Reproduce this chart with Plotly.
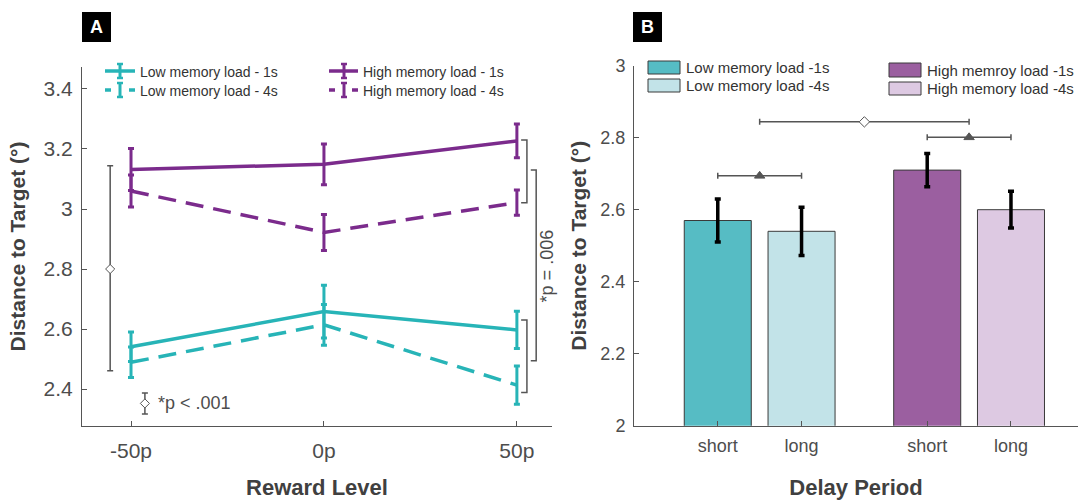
import plotly.graph_objects as go

W, H = 1078, 502

# ---------------- Panel A data ----------------
reward_levels = [-50, 0, 50]
reward_ticks = ["-50p", "0p", "50p"]
low_1s = [2.541, 2.658, 2.597]
low_1s_err = [0.049, 0.088, 0.062]
low_4s = [2.489, 2.614, 2.413]
low_4s_err = [0.051, 0.068, 0.064]
high_1s = [3.132, 3.149, 3.227]
high_1s_err = [0.070, 0.068, 0.056]
high_4s = [3.060, 2.922, 3.021]
high_4s_err = [0.053, 0.060, 0.042]
yticks_a = [2.4, 2.6, 2.8, 3.0, 3.2, 3.4]
yticklabels_a = ["2.4", "2.6", "2.8", "3", "3.2", "3.4"]

# significance annotations (panel A)
load_diff_center = 2.8
load_diff_up = 0.344
load_diff_down = 0.339
key_center = 2.352
key_half = 0.035
bracket_high = [3.230, 3.021]
bracket_low = [2.630, 2.388]
bracket_join = [3.130, 2.494]

# ---------------- Panel B data ----------------
delay_labels = ["short", "long", "short", "long"]
bar_pos = [1, 2, 3.5, 4.5]
bar_vals = [2.57, 2.54, 2.71, 2.60]
bar_err = [0.060, 0.067, 0.046, 0.051]
yticks_b = [2.0, 2.2, 2.4, 2.6, 2.8, 3.0]
yticklabels_b = ["2", "2.2", "2.4", "2.6", "2.8", "3"]
sig_b_x = [1.5, 2.75, 4.0]
sig_b_y = [2.694, 2.844, 2.801]
sig_b_half = [0.5, 1.25, 0.5]
sig_b_symbol = ["triangle-up", "diamond", "triangle-up"]

TEAL = "#27B4B7"
PURPLE = "#7B2B8C"
BAR_COLORS = ["#56BCC4", "#C2E3E8", "#9B5FA0", "#DDC9E2"]
GRAY = "#555555"
TXT = "#4D4D4D"
FONT = "Liberation Sans"

fig = go.Figure()


def line_series(y, e, color, dash):
    fig.add_trace(go.Scatter(
        x=reward_levels, y=y, mode="lines",
        line=dict(color=color, width=3.5, dash=dash),
        error_y=dict(type="data", array=e, color=color, thickness=3, width=3),
        showlegend=False, xaxis="x", yaxis="y", hoverinfo="skip"))


line_series(low_1s, low_1s_err, TEAL, "solid")
line_series(low_4s, low_4s_err, TEAL, "18px,10px")
line_series(high_1s, high_1s_err, PURPLE, "solid")
line_series(high_4s, high_4s_err, PURPLE, "18px,10px")

# left significance bar
fig.add_trace(go.Scatter(
    x=[-55.4], y=[load_diff_center], mode="markers",
    marker=dict(symbol="diamond", size=7, color="white", line=dict(color=GRAY, width=1)),
    error_y=dict(type="data", symmetric=False, array=[load_diff_up], arrayminus=[load_diff_down],
                 color=GRAY, thickness=1.5, width=3),
    showlegend=False, xaxis="x", yaxis="y", hoverinfo="skip"))
# key glyph
fig.add_trace(go.Scatter(
    x=[-46.4], y=[key_center], mode="markers",
    marker=dict(symbol="diamond", size=7, color="white", line=dict(color=GRAY, width=1)),
    error_y=dict(type="data", array=[key_half], color=GRAY, thickness=1.5, width=3),
    showlegend=False, xaxis="x", yaxis="y", hoverinfo="skip"))

# ---------------- Panel B ----------------
fig.add_trace(go.Bar(
    x=bar_pos, y=bar_vals, width=0.8,
    marker=dict(color=BAR_COLORS, line=dict(color="#3a3a3a", width=1)),
    error_y=dict(type="data", array=bar_err, color="black", thickness=3.5, width=3),
    showlegend=False, xaxis="x2", yaxis="y2", hoverinfo="skip"))

for xs, ys, hs, sym in zip(sig_b_x, sig_b_y, sig_b_half, sig_b_symbol):
    fig.add_trace(go.Scatter(
        x=[xs], y=[ys], mode="markers",
        marker=dict(symbol=sym, size=8 if sym == "diamond" else 9,
                    color="white" if sym == "diamond" else GRAY,
                    line=dict(color=GRAY, width=1)),
        error_x=dict(type="data", array=[hs], color=GRAY, thickness=1.5, width=3),
        showlegend=False, xaxis="x2", yaxis="y2", hoverinfo="skip"))

shapes = []
annotations = []


def px(x):
    return x / W


def py(y):
    return 1 - y / H


# panel A right brackets
def bracket(x0, x1, ya, yb):
    shapes.append(dict(type="path", xref="x", yref="y",
                       path=f"M {x0},{ya} L {x1},{ya} L {x1},{yb} L {x0},{yb}",
                       line=dict(color=GRAY, width=1.5)))


bracket(51.1, 52.6, bracket_high[0], bracket_high[1])
bracket(51.1, 52.6, bracket_low[0], bracket_low[1])
bracket(53.6, 55.0, bracket_join[0], bracket_join[1])
annotations.append(dict(x=57.8, y=(bracket_join[0] + bracket_join[1]) / 2, xref="x", yref="y",
                        text="*p = .006", textangle=-90, showarrow=False,
                        font=dict(size=18, color=TXT, family=FONT)))
annotations.append(dict(x=-43.5, y=key_center, xref="x", yref="y", xanchor="left",
                        text="*p < .001", showarrow=False,
                        font=dict(size=18, color=TXT, family=FONT)))

# panel A legend (drawn)
legA = [
    (105, 135, 120, 71, TEAL, "solid", "Low memory load - 1s"),
    (105, 135, 120, 90, TEAL, "dash", "Low memory load - 4s"),
    (329, 358, 344, 71, PURPLE, "solid", "High memory load - 1s"),
    (329, 358, 344, 90, PURPLE, "dash", "High memory load - 4s"),
]
for x0, x1, xc, yc, col, dsh, label in legA:
    if dsh == "solid":
        shapes.append(dict(type="line", xref="paper", yref="paper", x0=px(x0), x1=px(x1),
                           y0=py(yc), y1=py(yc), line=dict(color=col, width=3.5)))
    else:
        for a, b in [(x0, x0 + 6), (x1 - 6, x1)]:
            shapes.append(dict(type="line", xref="paper", yref="paper", x0=px(a), x1=px(b),
                               y0=py(yc), y1=py(yc), line=dict(color=col, width=3.5)))
    shapes.append(dict(type="line", xref="paper", yref="paper", x0=px(xc), x1=px(xc),
                       y0=py(yc - 7), y1=py(yc + 7), line=dict(color=col, width=3)))
    for yy in (yc - 7, yc + 7):
        shapes.append(dict(type="line", xref="paper", yref="paper", x0=px(xc - 3), x1=px(xc + 3),
                           y0=py(yy), y1=py(yy), line=dict(color=col, width=2.5)))
    annotations.append(dict(x=px(x1 + 3), y=py(yc + 1), xref="paper", yref="paper",
                            xanchor="left", yanchor="middle", text=label, showarrow=False,
                            font=dict(size=14, color="#333333", family=FONT)))

# panel B legend
legB = [
    (648, 680, 61, 74, BAR_COLORS[0], "Low memory load -1s"),
    (648, 680, 79, 92, BAR_COLORS[1], "Low memory load -4s"),
    (889, 921, 63, 77, BAR_COLORS[2], "High memroy load -1s"),
    (889, 921, 82, 95, BAR_COLORS[3], "High memory load -4s"),
]
for x0, x1, y0, y1, col, label in legB:
    shapes.append(dict(type="rect", xref="paper", yref="paper", x0=px(x0), x1=px(x1),
                       y0=py(y1), y1=py(y0), fillcolor=col, line=dict(color="#3a3a3a", width=1)))
    annotations.append(dict(x=px(x1 + 4), y=py((y0 + y1) / 2), xref="paper", yref="paper",
                            xanchor="left", yanchor="middle", text=label, showarrow=False,
                            font=dict(size=15, color="#333333", family=FONT)))

# panel labels
for x0, lab in [(82, "A"), (633, "B")]:
    shapes.append(dict(type="rect", xref="paper", yref="paper", x0=px(x0), x1=px(x0 + 29),
                       y0=py(42), y1=py(12), fillcolor="black", line=dict(width=0)))
    annotations.append(dict(x=px(x0 + 14.5), y=py(27), xref="paper", yref="paper",
                            xanchor="center", yanchor="middle",
                            text=f"<b>{lab}</b>", showarrow=False,
                            font=dict(size=18, color="white", family=FONT)))

axis_common = dict(showgrid=False, zeroline=False, showline=True, linecolor=GRAY, linewidth=1,
                   ticks="inside", ticklen=5, tickcolor=GRAY, mirror=False, automargin=False)

fig.update_layout(
    width=W, height=H, margin=dict(l=0, r=0, t=0, b=0, autoexpand=False),
    paper_bgcolor="white", plot_bgcolor="white",
    font=dict(family=FONT, color=TXT),
    shapes=shapes, annotations=annotations, showlegend=False,
    xaxis=dict(domain=[82 / W, 552 / W], range=[-62.7, 59.1], anchor="y",
               tickvals=reward_levels, ticktext=reward_ticks,
               tickfont=dict(size=21, color=TXT), ticklabelstandoff=6,
               title=dict(text="<b>Reward Level</b>", font=dict(size=22, color="#404040"), standoff=18),
               **axis_common),
    yaxis=dict(domain=[(H - 426) / H, (H - 67) / H], range=[2.2767, 3.4733], anchor="x",
               tickvals=yticks_a, ticktext=yticklabels_a,
               tickfont=dict(size=21, color=TXT), ticklabelstandoff=4,
               title=dict(text="<b>Distance to Target (°)</b>", font=dict(size=21, color="#404040"), standoff=12),
               **axis_common),
    xaxis2=dict(domain=[634 / W, 1.0], range=[0, 5.3], anchor="y2",
                tickvals=bar_pos, ticktext=delay_labels,
                tickfont=dict(size=18, color=TXT), ticklabelstandoff=4,
                title=dict(text="<b>Delay Period</b>", font=dict(size=22, color="#404040"), standoff=24),
                **axis_common),
    yaxis2=dict(domain=[(H - 425.7) / H, (H - 65.7) / H], range=[2, 3], anchor="x2",
                tickvals=yticks_b, ticktext=yticklabels_b,
                tickfont=dict(size=18, color=TXT), ticklabelstandoff=4,
                title=dict(text="<b>Distance to Target (°)</b>", font=dict(size=21, color="#404040"), standoff=8),
                **axis_common),
)

fig.write_html("out.html")
